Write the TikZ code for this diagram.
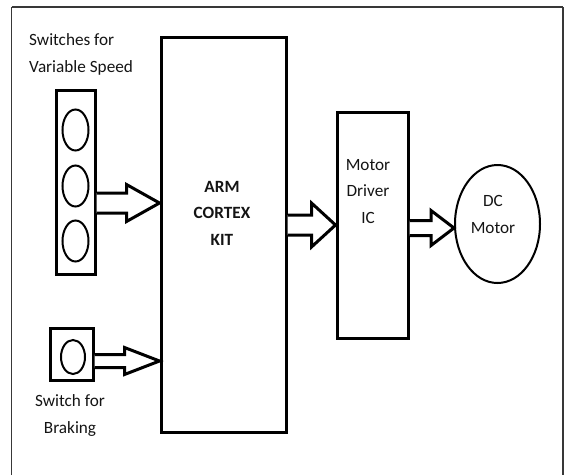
\documentclass[tikz,border=0pt]{standalone}
\usepackage{fontspec}
\setmainfont{Carlito}
\usetikzlibrary{calc,shapes.geometric}
\newcommand\blockarr[6]{%
  \draw[barrow] let \p1=(#1.east |- 0,#3), \p2=(#2.west |- 0,#3) in
    (\x1,\y1+#5pt) -- (\x2-#4pt,\y1+#5pt) -- (\x2-#4pt,\y1+#6pt) -- (\x2,\y1)
    -- (\x2-#4pt,\y1-#6pt) -- (\x2-#4pt,\y1-#5pt) -- (\x1,\y1-#5pt);}
\begin{document}
\begin{tikzpicture}[x=1pt,y=-1pt,
  box/.style={draw,line width=3pt,minimum width=#1,inner sep=0pt},
  knob/.style={draw,ellipse,line width=2pt,inner sep=0pt},
  barrow/.style={line width=3pt,fill=white,line join=miter},
  lbl/.style={text=black!92,font=\fontsize{17.2}{26.5}\selectfont,inner sep=0pt},
  frame/.style={draw=black!78}]
\useasboundingbox (0,0) rectangle (565,475);
% outer frame
\draw[frame,line width=1.5pt] (11.5,475) -- (11.5,7);
\draw[frame,line width=2pt] (11.5,7) -- (563,7);
\draw[frame,line width=2.5pt] (563,7) -- (563,475);
% blocks
\node[box=125pt,minimum height=395pt] (arm) at (223.5,234.5) {};
\node[box=39pt,minimum height=184pt] (bank) at (75.5,182) {};
\node[knob,minimum width=26pt,minimum height=41pt] (k1) at (75.5,130) {};
\node[knob,minimum width=26pt,minimum height=41pt] (k2) at (75.5,186) {};
\node[knob,minimum width=26pt,minimum height=41pt] (k3) at (75.5,241) {};
\node[box=43pt,minimum height=52pt] (brk) at (71.5,354) {};
\node[knob,minimum width=24pt,minimum height=34pt] (kb) at (73,357) {};
\node[box=71pt,minimum height=226pt] (md) at (372.5,225) {};
\node[knob,minimum width=85pt,minimum height=118pt] (motor) at (497.5,224) {};
% block arrows
\blockarr{bank}{arm}{203}{33}{10}{18.5}
\blockarr{brk}{arm}{361}{35}{6.5}{13.5}
\blockarr{arm}{md}{225}{24}{10}{22}
\blockarr{md}{motor}{228}{23}{7.5}{17.5}
% labels
\node[lbl,anchor=base west,align=left] (t1) at (29,72) {Switches for\\Variable Speed};
\node[lbl,anchor=base,align=center] (t2) at (70,433) {Switch for\\Braking};
\node[lbl,anchor=base,align=center,font=\fontsize{17.2}{26.5}\selectfont\bfseries] (t3) at (222,245) {ARM\\CORTEX\\KIT};
\node[lbl,anchor=base,align=center] (t4) at (368,223) {Motor\\Driver\\IC};
\node[lbl,anchor=base,align=center] (t5) at (493,233) {DC\\Motor};
\end{tikzpicture}
\end{document}
